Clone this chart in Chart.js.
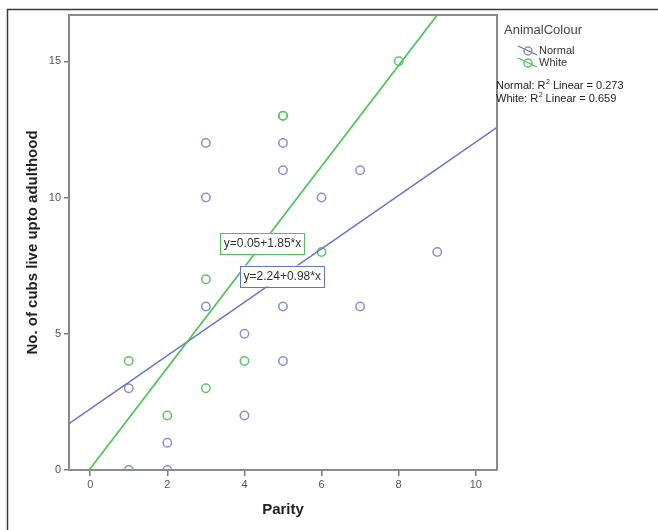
<!DOCTYPE html>
<html>
<head>
<meta charset="utf-8">
<script src="https://cdn.jsdelivr.net/npm/chart.js@4.4.1/dist/chart.umd.min.js"></script>
<style>
  html, body { margin: 0; padding: 0; background: #fff; }
  #wrap { width: 658px; height: 530px; }
</style>
</head>
<body>
<div id="wrap"><canvas id="c" width="658" height="530"></canvas></div>
<script>
// ---- data ----
const seriesNames = ['Normal', 'White'];
const legendTitle = 'AnimalColour';
const normalX = [1, 1, 2, 2, 3, 3, 3, 4, 4, 5, 5, 5, 5, 6, 7, 7, 9];
const normalY = [0, 3, 0, 1, 6, 10, 12, 2, 5, 4, 6, 11, 12, 10, 6, 11, 8];
const whiteX = [1, 2, 3, 3, 4, 5, 5, 6, 8];
const whiteY = [4, 2, 3, 7, 4, 13, 13, 8, 15];
const fitIntercept = [2.24, 0.05];
const fitSlope = [0.98, 1.85];
const fitR2 = [0.273, 0.659];
const xTicks = [0, 2, 4, 6, 8, 10];
const yTicks = [0, 5, 10, 15];
const xTitle = 'Parity';
const yTitle = 'No. of cubs live upto adulthood';

const X_MIN = -0.55, X_MAX = 10.55, Y_MIN = 0, Y_MAX = 16.7;
const FONT = "'Liberation Sans', Arial, sans-serif";
const lineColors = ['#6674c6', '#4cc35a'];
const markColors = ['#8490d8', '#5cc46a'];

function pts(xs, ys) { return xs.map((x, i) => ({ x: x, y: ys[i] })); }
function fitLine(i) {
  return [X_MIN, X_MAX].map(x => ({ x: x, y: fitIntercept[i] + fitSlope[i] * x }));
}
// anchor x (data units) where each equation box sits on its line
const boxAnchorX = [4.98, 4.47];

const extras = {
  id: 'extras',
  beforeDraw(chart) {
    const ctx = chart.ctx;
    ctx.save();
    ctx.fillStyle = '#fff';
    ctx.fillRect(0, 0, chart.width, chart.height);
    ctx.strokeStyle = '#3a3a3a';
    ctx.lineWidth = 1.5;
    ctx.beginPath();
    ctx.moveTo(7.5, 530);
    ctx.lineTo(7.5, 9.5);
    ctx.lineTo(658, 9.5);
    ctx.stroke();
    ctx.restore();
  },
  afterDraw(chart) {
    const ctx = chart.ctx;
    const a = chart.chartArea;
    const xs = chart.scales.x, ys = chart.scales.y;
    ctx.save();
    // plot frame top/right
    ctx.strokeStyle = '#8a8a8a';
    ctx.lineWidth = 2;
    ctx.beginPath();
    ctx.moveTo(a.left - 1, a.top);
    ctx.lineTo(a.right, a.top);
    ctx.lineTo(a.right, a.bottom);
    ctx.stroke();

    // equation boxes
    ctx.font = '12px ' + FONT;
    ctx.textAlign = 'center';
    ctx.textBaseline = 'middle';
    for (let i = 0; i < 2; i++) {
      const bx = boxAnchorX[i];
      const px = xs.getPixelForValue(bx);
      const py = ys.getPixelForValue(fitIntercept[i] + fitSlope[i] * bx);
      const txt = 'y=' + fitIntercept[i].toFixed(2) + '+' + fitSlope[i].toFixed(2) + '*x';
      const w = ctx.measureText(txt).width + 7;
      const h = 21;
      ctx.fillStyle = '#fff';
      ctx.fillRect(px - w / 2, py - h / 2, w, h);
      ctx.strokeStyle = lineColors[i];
      ctx.lineWidth = 1;
      ctx.strokeRect(Math.round(px - w / 2) + 0.5, Math.round(py - h / 2) + 0.5, Math.round(w), h);
      ctx.fillStyle = '#333';
      ctx.fillText(txt, px, py + 0.5);
    }

    // legend
    ctx.textAlign = 'left';
    ctx.textBaseline = 'middle';
    ctx.fillStyle = '#444';
    ctx.font = '13px ' + FONT;
    ctx.fillText(legendTitle, 504, 30);
    const ly = [51, 63];
    ctx.font = '11px ' + FONT;
    for (let i = 0; i < 2; i++) {
      ctx.strokeStyle = lineColors[i];
      ctx.lineWidth = 1.3;
      ctx.beginPath();
      ctx.moveTo(518, ly[i] - 5);
      ctx.lineTo(537, ly[i] + 4);
      ctx.stroke();
      ctx.strokeStyle = markColors[i];
      ctx.lineWidth = 1.5;
      ctx.beginPath();
      ctx.arc(528, ly[i], 4, 0, Math.PI * 2);
      ctx.stroke();
      ctx.fillStyle = '#333';
      ctx.fillText(seriesNames[i], 539, ly[i]);
    }
    // R2 lines
    const ry = [86, 99];
    for (let i = 0; i < 2; i++) {
      let x = 496;
      ctx.fillStyle = '#222';
      ctx.font = '11px ' + FONT;
      const p1 = seriesNames[i] + ': R';
      ctx.fillText(p1, x, ry[i]);
      x += ctx.measureText(p1).width;
      ctx.font = '7px ' + FONT;
      ctx.fillText('2', x + 0.5, ry[i] - 4);
      x += ctx.measureText('2').width + 0.5;
      ctx.font = '11px ' + FONT;
      ctx.fillText(' Linear = ' + fitR2[i].toFixed(3), x, ry[i]);
    }
    ctx.restore();
  }
};

new Chart(document.getElementById('c'), {
  type: 'scatter',
  data: {
    datasets: [
      { label: seriesNames[0], data: pts(normalX, normalY), pointStyle: 'circle', pointRadius: 4.2,
        pointBorderWidth: 1.5, borderColor: markColors[0], backgroundColor: 'rgba(0,0,0,0)', order: 3 },
      { label: seriesNames[1], data: pts(whiteX, whiteY), pointStyle: 'circle', pointRadius: 4.2,
        pointBorderWidth: 1.5, borderColor: markColors[1], backgroundColor: 'rgba(0,0,0,0)', order: 2 },
      { type: 'line', label: 'fitN', data: fitLine(0), borderColor: lineColors[0], borderWidth: 1.5,
        pointRadius: 0, fill: false, order: 1 },
      { type: 'line', label: 'fitW', data: fitLine(1), borderColor: lineColors[1], borderWidth: 1.7,
        pointRadius: 0, fill: false, order: 0 }
    ]
  },
  options: {
    responsive: false,
    animation: false,
    devicePixelRatio: 1,
    layout: { padding: { top: 15, right: 161, left: 0, bottom: 0 } },
    plugins: { legend: { display: false }, tooltip: { enabled: false } },
    scales: {
      x: {
        type: 'linear', min: X_MIN, max: X_MAX,
        afterBuildTicks: s => { s.ticks = xTicks.map(v => ({ value: v })); },
        afterFit: s => { s.height = 60; },
        grid: { display: true, drawOnChartArea: false, drawTicks: true, tickLength: 6, color: '#7a7a7a', lineWidth: 1.5 },
        border: { display: true, color: '#8a8a8a', width: 2 },
        ticks: { color: '#555', font: { family: FONT, size: 11 }, padding: 2, maxRotation: 0 },
        title: { display: true, text: xTitle, color: '#222', font: { family: FONT, size: 15, weight: 'bold' },
                 padding: { top: 11, bottom: 11 } }
      },
      y: {
        type: 'linear', min: Y_MIN, max: Y_MAX,
        afterBuildTicks: s => { s.ticks = yTicks.map(v => ({ value: v })); },
        afterFit: s => { s.width = 69; },
        grid: { display: true, drawOnChartArea: false, drawTicks: true, tickLength: 5, color: '#7a7a7a', lineWidth: 1.5 },
        border: { display: true, color: '#8a8a8a', width: 2 },
        ticks: { color: '#555', font: { family: FONT, size: 11 }, padding: 3 },
        title: { display: true, text: yTitle, color: '#222', font: { family: FONT, size: 15, weight: 'bold' },
                 padding: { top: 24, bottom: 24 } }
      }
    }
  },
  plugins: [extras]
});
</script>
</body>
</html>
